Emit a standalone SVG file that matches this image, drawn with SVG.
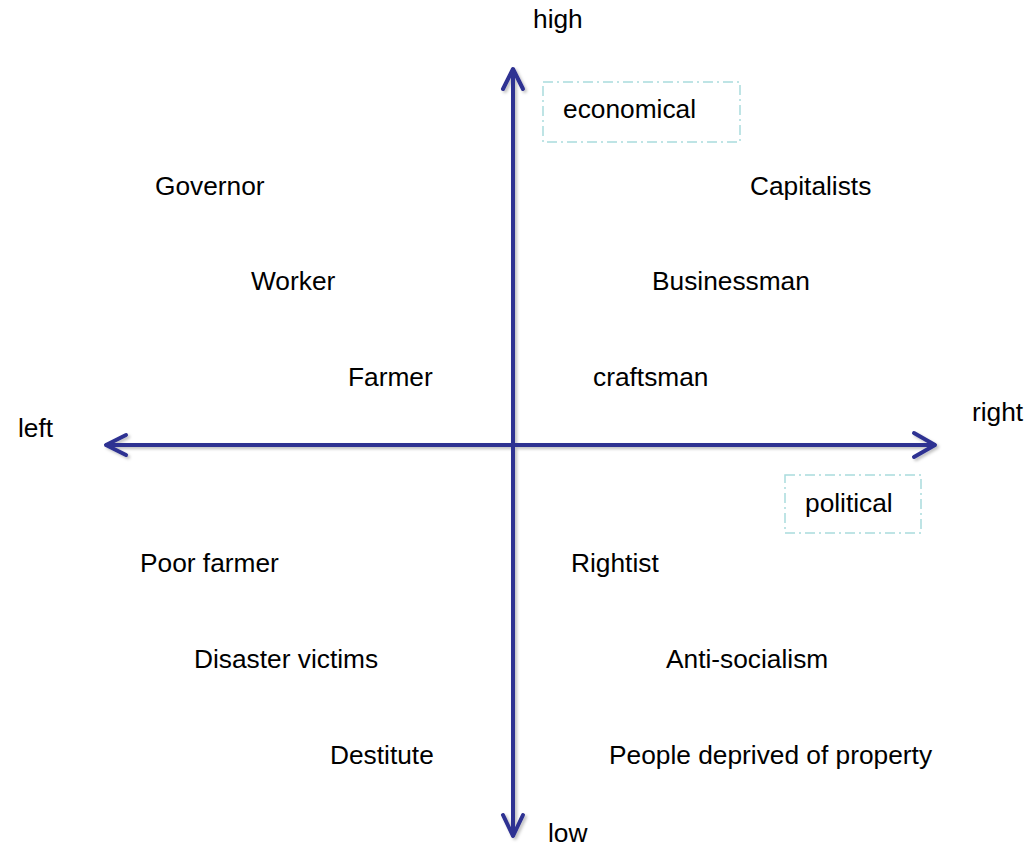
<svg xmlns="http://www.w3.org/2000/svg" width="1036" height="846" viewBox="0 0 1036 846">
  <style>
    text { font-family: "Liberation Sans", Arial, sans-serif; font-size: 26.3px; fill: #000; }
    .axis { stroke: #2e3192; stroke-width: 4; fill: none; stroke-linecap: round; stroke-linejoin: round; }
    .tag { fill: none; stroke: #a9dcdd; stroke-width: 1.5; stroke-dasharray: 10 4 2 4; }
  </style>
  <defs>
    <filter id="shadow" x="-5%" y="-5%" width="110%" height="110%">
      <feDropShadow dx="2" dy="2" stdDeviation="1.5" flood-color="#000" flood-opacity="0.25"/>
    </filter>
  </defs>
  <rect width="1036" height="846" fill="#fff"/>

  <!-- axes -->
  <g id="connectors" filter="url(#shadow)">
    <path class="axis" d="M513 70 V835"/>
    <path class="axis" d="M503 89 L513 69 L523 89"/>
    <path class="axis" d="M503 815 L513 836 L523 815"/>
    <path class="axis" d="M107 445 H934"/>
    <path class="axis" d="M126 435 L106 445 L126 455"/>
    <path class="axis" d="M914 433 L935 445 L914 457"/>
  </g>

  <!-- axis labels -->
  <g id="axis-labels">
    <text x="533" y="28">high</text>
    <text x="548" y="842">low</text>
    <text x="18" y="437">left</text>
    <text x="972" y="421">right</text>
  </g>

  <g id="economical">
    <rect class="tag" x="543" y="82" width="197" height="60"/>
    <text x="563" y="118">economical</text>
  </g>
  <g id="political">
    <rect class="tag" x="785" y="475" width="136" height="58"/>
    <text x="805" y="512">political</text>
  </g>

  <g id="governor"><text x="155" y="195">Governor</text></g>
  <g id="capitalists"><text x="750" y="195">Capitalists</text></g>
  <g id="worker"><text x="251" y="290">Worker</text></g>
  <g id="businessman"><text x="652" y="290">Businessman</text></g>
  <g id="farmer"><text x="348" y="386">Farmer</text></g>
  <g id="craftsman"><text x="593" y="386">craftsman</text></g>
  <g id="poor-farmer"><text x="140" y="572">Poor farmer</text></g>
  <g id="rightist"><text x="571" y="572">Rightist</text></g>
  <g id="disaster-victims"><text x="194" y="668">Disaster victims</text></g>
  <g id="anti-socialism"><text x="666" y="668">Anti-socialism</text></g>
  <g id="destitute"><text x="330" y="764">Destitute</text></g>
  <g id="deprived"><text x="609" y="764">People deprived of property</text></g>
</svg>
